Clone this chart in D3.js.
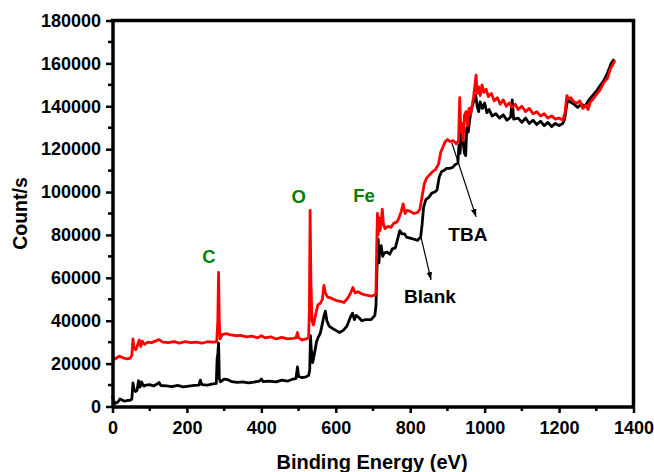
<!DOCTYPE html>
<html>
<head>
<meta charset="utf-8">
<script src="https://cdn.jsdelivr.net/npm/d3@7"></script>
<style>
  body { margin: 0; background: #fff; }
  text { font-family: Arial, "Liberation Sans", sans-serif; font-weight: bold; }
</style>
</head>
<body>
<div id="chart"></div>
<script>
// XPS survey spectra [binding energy eV, counts/s]
var blank = [
  [0, 5000], [3, 2500], [8, 1500], [14, 2000], [20, 3500], [26, 3000], [32, 2500], [40, 2800], [48, 3000], [52, 3500],
  [55, 11000], [58, 8000], [62, 7000], [66, 7500], [70, 12000], [74, 9000], [78, 11500], [84, 9500], [90, 10000],
  [100, 10200], [110, 9600], [120, 10500], [125, 11200], [130, 9800], [145, 9600], [160, 9300], [175, 9800],
  [190, 9200], [205, 9500], [220, 9800], [232, 10000], [236, 12300], [240, 10200], [255, 10000], [270, 10500],
  [279, 10800], [281, 22000], [283, 24500], [285, 29500], [286, 22000], [287, 13000], [290, 11500],
  [300, 12800], [310, 12500], [320, 11600], [335, 11200], [350, 11500], [365, 11000], [380, 11400], [395, 11800],
  [400, 12800], [405, 11600], [420, 11800], [440, 11500], [455, 12300], [470, 11800], [485, 12800], [493, 13000],
  [497, 18500], [500, 14000], [510, 13500], [520, 13800], [527, 14500], [530, 17000], [532, 33000], [534, 27000],
  [536, 24000], [538, 20500], [542, 24000], [548, 30000], [552, 32000], [558, 34000], [562, 37000], [568, 42000],
  [572, 44500], [576, 40000], [582, 37500], [590, 36500], [600, 35500], [610, 34500], [620, 35500], [630, 37500],
  [640, 42000], [645, 43500], [650, 40500], [655, 42500], [662, 41500], [670, 40000], [680, 40500], [695, 40500],
  [705, 42500], [708, 47000], [710, 60000], [712, 72000], [714, 78000], [716, 67000], [718, 73000], [722, 75000],
  [726, 70000], [730, 71500], [738, 72000], [745, 71000], [752, 73500], [760, 74000], [766, 78000], [772, 82000],
  [778, 80500], [785, 80500], [790, 79000], [800, 78500], [810, 78000], [820, 77500], [828, 79000], [832, 85000],
  [836, 93000], [842, 96500], [850, 97500], [858, 99500], [866, 100000], [872, 101000], [878, 107000], [884, 109500],
  [890, 110000], [898, 111000], [906, 111000], [914, 111500], [922, 113000], [928, 113500], [931, 122000],
  [934, 118000], [937, 128000], [940, 130000], [943, 122000], [946, 118000], [949, 117000], [952, 130000],
  [956, 128000], [960, 134000], [965, 139000], [970, 142000], [976, 145000], [980, 140000], [984, 137500],
  [988, 142000], [994, 139000], [1000, 141500], [1006, 137000], [1012, 138500], [1020, 135500], [1030, 136500],
  [1040, 134500], [1050, 136000], [1060, 133500], [1070, 135000], [1074, 143000], [1078, 134000], [1090, 134500],
  [1100, 132500], [1110, 134500], [1120, 132000], [1130, 133500], [1140, 131500], [1150, 133000], [1160, 131000],
  [1170, 132500], [1180, 130500], [1190, 132000], [1200, 131000], [1210, 132000], [1215, 134000], [1220, 140000],
  [1224, 143500], [1230, 142000], [1240, 141000], [1250, 139500], [1260, 141000], [1270, 140000], [1280, 143000],
  [1290, 145000], [1300, 147000], [1310, 149500], [1320, 152000], [1330, 155500], [1340, 160000], [1348, 162000]
];

var tba = [
  [0, 23500], [5, 22000], [10, 22500], [18, 23500], [25, 23000], [32, 22500], [40, 22200], [48, 22600], [52, 24000],
  [55, 31500], [58, 27000], [63, 26500], [68, 29000], [72, 31000], [76, 28000], [80, 30500], [86, 29000],
  [95, 30000], [105, 29800], [115, 30500], [125, 31200], [135, 30000], [150, 29800], [165, 30300], [180, 29600],
  [195, 30200], [210, 29800], [225, 30000], [240, 29500], [255, 30200], [270, 30000], [280, 30200], [283, 40000],
  [285, 62500], [287, 40000], [289, 31500], [295, 33500], [305, 34000], [315, 33500], [330, 33000], [345, 33200],
  [360, 32500], [375, 32800], [390, 32000], [400, 33000], [410, 32000], [425, 32500], [440, 31500], [455, 32200],
  [470, 31500], [485, 31800], [493, 32000], [497, 34500], [500, 32000], [510, 31000], [520, 31500], [527, 32000],
  [529, 45000], [531, 91500], [533, 60000], [536, 40000], [540, 38000], [546, 43000], [552, 47500], [558, 48000],
  [564, 50000], [568, 56500], [572, 53000], [578, 51000], [588, 50500], [600, 49500], [612, 49000], [622, 48500],
  [632, 50500], [640, 53000], [646, 55500], [652, 53000], [660, 53500], [670, 52500], [680, 52000], [695, 51500],
  [705, 52000], [708, 53000], [710, 75000], [712, 90000], [714, 80000], [716, 88000], [719, 82000], [722, 86000],
  [725, 92000], [728, 85000], [732, 83000], [740, 84000], [748, 83500], [756, 85500], [764, 86000], [770, 88000],
  [776, 91000], [781, 94500], [786, 90000], [792, 91500], [800, 91000], [810, 90000], [820, 90500], [826, 92000],
  [832, 98000], [838, 104000], [844, 106500], [852, 108000], [860, 109500], [868, 110500], [876, 113000],
  [882, 118500], [888, 121000], [894, 123500], [900, 124500], [908, 123500], [916, 124000], [924, 122500],
  [930, 124000], [933, 144000], [936, 128000], [939, 132000], [942, 124000], [946, 136000], [950, 137500],
  [954, 131000], [958, 139000], [962, 136000], [966, 140000], [970, 144000], [974, 150000], [977, 154500],
  [980, 146000], [984, 149000], [988, 145000], [993, 150000], [998, 146500], [1004, 148000], [1010, 144500],
  [1018, 146000], [1026, 142500], [1034, 144000], [1042, 141000], [1050, 143000], [1058, 140000], [1066, 141500],
  [1074, 139500], [1082, 141000], [1090, 138500], [1100, 140000], [1110, 137500], [1120, 139000], [1130, 136500],
  [1140, 137500], [1150, 135500], [1160, 136500], [1170, 134500], [1180, 135500], [1190, 134000], [1200, 134500],
  [1210, 133500], [1216, 137000], [1221, 145000], [1226, 143500], [1232, 144000], [1240, 142000], [1248, 141500],
  [1256, 142500], [1264, 139000], [1272, 140500], [1278, 138500], [1284, 142000], [1292, 143500], [1300, 145500],
  [1310, 147500], [1320, 151000], [1330, 153000], [1338, 157500], [1346, 160000], [1350, 161500]
];

var xTicks = [0, 200, 400, 600, 800, 1000, 1200, 1400];
var yTicks = [0, 20000, 40000, 60000, 80000, 100000, 120000, 140000, 160000, 180000];

// element labels (green) and series labels with arrows
var peakLabels = [
  {text: "C", x: 259, y: 66900},
  {text: "O", x: 500, y: 94900},
  {text: "Fe", x: 676, y: 95400}
];
var seriesLabels = [
  {text: "TBA", x: 955, y: 77200, from: [912, 122900], to: [977, 88400]},
  {text: "Blank", x: 853, y: 48300, from: [829, 79000], to: [856, 59000]}
];

var W = 654, H = 472,
  margin = {top: 20.5, right: 20.5, bottom: 65.5, left: 112.5},
  w = W - margin.left - margin.right,
  h = H - margin.top - margin.bottom;

var svg = d3.select("#chart").append("svg")
  .attr("width", W)
  .attr("height", H);

svg.append("defs").append("marker")
  .attr("id", "arrow")
  .attr("viewBox", "0 0 10 10")
  .attr("refX", 10).attr("refY", 5)
  .attr("markerWidth", 8).attr("markerHeight", 8)
  .attr("markerUnits", "userSpaceOnUse")
  .attr("orient", "auto")
  .append("path")
  .attr("d", "M0,1.5L10,5L0,8.5Z")
  .attr("fill", "#000");

var g = svg.append("g").attr("transform", "translate(" + margin.left + "," + margin.top + ")");

var x = d3.scaleLinear().domain([0, 1400]).range([0, w]);
var y = d3.scaleLinear().domain([0, 180000]).range([h, 0]);

var line = d3.line()
  .x(function (d) { return x(d[0]); })
  .y(function (d) { return y(d[1]); });

g.append("path").datum(blank)
  .attr("fill", "none").attr("stroke", "#000")
  .attr("stroke-width", 2.8).attr("stroke-linejoin", "round")
  .attr("d", line);

g.append("path").datum(tba)
  .attr("fill", "none").attr("stroke", "#ff0000")
  .attr("stroke-width", 2.8).attr("stroke-linejoin", "round")
  .attr("d", line);

// minor ticks
g.append("g").attr("transform", "translate(0," + h + ")")
  .selectAll("line").data(d3.range(100, 1400, 200)).enter().append("line")
  .attr("x1", function (d) { return x(d); }).attr("x2", function (d) { return x(d); })
  .attr("y1", 0).attr("y2", 4.5)
  .attr("stroke", "#000").attr("stroke-width", 2.5);

g.append("g")
  .selectAll("line").data(d3.range(10000, 180000, 20000)).enter().append("line")
  .attr("y1", function (d) { return y(d); }).attr("y2", function (d) { return y(d); })
  .attr("x1", 0).attr("x2", -4.5)
  .attr("stroke", "#000").attr("stroke-width", 2.5);

// axes
var xAxis = g.append("g")
  .attr("transform", "translate(0," + h + ")")
  .call(d3.axisBottom(x).tickValues(xTicks).tickFormat(d3.format("d")).tickSize(6.5).tickSizeOuter(0).tickPadding(8));

var yAxis = g.append("g")
  .call(d3.axisLeft(y).tickValues(yTicks).tickFormat(d3.format("d")).tickSize(6.5).tickSizeOuter(0).tickPadding(5));

[xAxis, yAxis].forEach(function (a) {
  a.select(".domain").attr("stroke-width", 3.5);
  a.selectAll(".tick line").attr("stroke-width", 2.5);
  a.selectAll(".tick text").attr("font-size", 18).attr("fill", "#000")
    .style("font-family", "Arial, 'Liberation Sans', sans-serif").style("font-weight", "bold");
});

// top and right frame
g.append("line").attr("x1", -1.75).attr("x2", w + 1.75).attr("y1", 0).attr("y2", 0)
  .attr("stroke", "#000").attr("stroke-width", 3.5);
g.append("line").attr("x1", w).attr("x2", w).attr("y1", 0).attr("y2", h)
  .attr("stroke", "#000").attr("stroke-width", 3.5);

// axis titles
svg.append("text")
  .attr("x", margin.left + w / 2 - 1).attr("y", 469)
  .attr("text-anchor", "middle").attr("font-size", 20)
  .text("Binding Energy (eV)");

svg.append("text")
  .attr("transform", "translate(27," + (margin.top + h / 2) + ") rotate(-90)")
  .attr("text-anchor", "middle").attr("font-size", 19.5)
  .text("Count/s");

// element labels
g.selectAll(".peak").data(peakLabels).enter().append("text")
  .attr("class", "peak")
  .attr("x", function (d) { return x(d.x); })
  .attr("y", function (d) { return y(d.y); })
  .attr("text-anchor", "middle").attr("font-size", 18.5)
  .attr("fill", "#008000")
  .text(function (d) { return d.text; });

// series labels + arrows
g.selectAll(".arrow").data(seriesLabels).enter().append("line")
  .attr("class", "arrow")
  .attr("x1", function (d) { return x(d.from[0]); })
  .attr("y1", function (d) { return y(d.from[1]); })
  .attr("x2", function (d) { return x(d.to[0]); })
  .attr("y2", function (d) { return y(d.to[1]); })
  .attr("stroke", "#000").attr("stroke-width", 1.2)
  .attr("marker-end", "url(#arrow)");

g.selectAll(".slabel").data(seriesLabels).enter().append("text")
  .attr("class", "slabel")
  .attr("x", function (d) { return x(d.x); })
  .attr("y", function (d) { return y(d.y); })
  .attr("text-anchor", "middle").attr("font-size", 19)
  .attr("fill", "#000")
  .text(function (d) { return d.text; });
</script>
</body>
</html>
